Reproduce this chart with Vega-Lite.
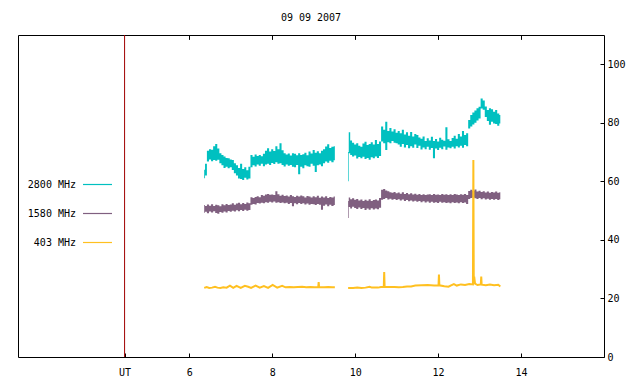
{
  "$schema": "https://vega.github.io/schema/vega-lite/v6.json",
  "width": 586,
  "height": 322,
  "autosize": {"type": "none"},
  "padding": {"left": 18, "top": 35, "right": 36, "bottom": 27},
  "background": "white",
  "title": {"text": "09 09 2007", "font": "DejaVu Sans Mono", "fontSize": 10, "fontWeight": "normal", "color": "black", "anchor": "middle", "offset": 12},
  "config": {
    "view": {"stroke": "black", "strokeWidth": 1},
    "axis": {"grid": false, "domain": false, "tickColor": "black", "labelColor": "black", "labelFont": "DejaVu Sans Mono", "labelFontSize": 10, "labelFlush": false, "title": null},
    "legend": {"labelFont": "DejaVu Sans Mono", "labelFontSize": 10, "labelColor": "black"}
  },
  "datasets": {
    "marker": [{"t": 4.44}],
    "s2800": [
      {"band":"2800 MHz","seg":1,"t":6.36,"lo":61.1,"hi":64.0},
      {"band":"2800 MHz","seg":1,"t":6.40,"lo":62.0,"hi":66.0},
      {"band":"2800 MHz","seg":1,"t":6.45,"lo":66.8,"hi":70.5},
      {"band":"2800 MHz","seg":1,"t":6.50,"lo":67.5,"hi":71.0},
      {"band":"2800 MHz","seg":1,"t":6.55,"lo":66.9,"hi":70.8},
      {"band":"2800 MHz","seg":1,"t":6.60,"lo":67.3,"hi":72.0},
      {"band":"2800 MHz","seg":1,"t":6.65,"lo":67.0,"hi":72.8},
      {"band":"2800 MHz","seg":1,"t":6.70,"lo":67.4,"hi":71.2},
      {"band":"2800 MHz","seg":1,"t":6.75,"lo":66.2,"hi":69.6},
      {"band":"2800 MHz","seg":1,"t":6.80,"lo":65.5,"hi":69.0},
      {"band":"2800 MHz","seg":1,"t":6.85,"lo":64.6,"hi":68.5},
      {"band":"2800 MHz","seg":1,"t":6.90,"lo":65.0,"hi":68.0},
      {"band":"2800 MHz","seg":1,"t":6.95,"lo":64.5,"hi":67.9},
      {"band":"2800 MHz","seg":1,"t":7.00,"lo":64.8,"hi":67.5},
      {"band":"2800 MHz","seg":1,"t":7.05,"lo":63.9,"hi":67.3},
      {"band":"2800 MHz","seg":1,"t":7.10,"lo":62.8,"hi":66.2},
      {"band":"2800 MHz","seg":1,"t":7.15,"lo":62.0,"hi":65.5},
      {"band":"2800 MHz","seg":1,"t":7.20,"lo":61.0,"hi":64.6},
      {"band":"2800 MHz","seg":1,"t":7.25,"lo":60.8,"hi":66.0},
      {"band":"2800 MHz","seg":1,"t":7.30,"lo":60.5,"hi":64.2},
      {"band":"2800 MHz","seg":1,"t":7.35,"lo":61.2,"hi":64.8},
      {"band":"2800 MHz","seg":1,"t":7.40,"lo":60.6,"hi":63.8},
      {"band":"2800 MHz","seg":1,"t":7.45,"lo":61.0,"hi":65.0},
      {"band":"2800 MHz","seg":1,"t":7.50,"lo":64.8,"hi":69.0},
      {"band":"2800 MHz","seg":1,"t":7.55,"lo":65.5,"hi":68.4},
      {"band":"2800 MHz","seg":1,"t":7.60,"lo":65.1,"hi":69.2},
      {"band":"2800 MHz","seg":1,"t":7.65,"lo":65.8,"hi":68.7},
      {"band":"2800 MHz","seg":1,"t":7.70,"lo":65.3,"hi":69.0},
      {"band":"2800 MHz","seg":1,"t":7.75,"lo":66.0,"hi":68.6},
      {"band":"2800 MHz","seg":1,"t":7.80,"lo":65.2,"hi":69.4},
      {"band":"2800 MHz","seg":1,"t":7.85,"lo":65.8,"hi":70.5},
      {"band":"2800 MHz","seg":1,"t":7.90,"lo":66.0,"hi":71.3},
      {"band":"2800 MHz","seg":1,"t":7.95,"lo":65.6,"hi":70.2},
      {"band":"2800 MHz","seg":1,"t":8.00,"lo":66.3,"hi":71.0},
      {"band":"2800 MHz","seg":1,"t":8.05,"lo":65.9,"hi":70.4},
      {"band":"2800 MHz","seg":1,"t":8.10,"lo":66.5,"hi":72.0},
      {"band":"2800 MHz","seg":1,"t":8.15,"lo":66.0,"hi":71.0},
      {"band":"2800 MHz","seg":1,"t":8.20,"lo":66.2,"hi":73.0},
      {"band":"2800 MHz","seg":1,"t":8.25,"lo":65.6,"hi":70.6},
      {"band":"2800 MHz","seg":1,"t":8.30,"lo":65.1,"hi":69.6},
      {"band":"2800 MHz","seg":1,"t":8.35,"lo":65.8,"hi":69.2},
      {"band":"2800 MHz","seg":1,"t":8.40,"lo":65.3,"hi":69.5},
      {"band":"2800 MHz","seg":1,"t":8.45,"lo":65.6,"hi":68.8},
      {"band":"2800 MHz","seg":1,"t":8.50,"lo":65.0,"hi":69.6},
      {"band":"2800 MHz","seg":1,"t":8.55,"lo":64.8,"hi":69.4},
      {"band":"2800 MHz","seg":1,"t":8.60,"lo":65.6,"hi":68.9},
      {"band":"2800 MHz","seg":1,"t":8.65,"lo":62.4,"hi":69.6},
      {"band":"2800 MHz","seg":1,"t":8.70,"lo":65.0,"hi":69.0},
      {"band":"2800 MHz","seg":1,"t":8.75,"lo":64.5,"hi":69.3},
      {"band":"2800 MHz","seg":1,"t":8.80,"lo":65.5,"hi":69.8},
      {"band":"2800 MHz","seg":1,"t":8.85,"lo":65.2,"hi":68.9},
      {"band":"2800 MHz","seg":1,"t":8.90,"lo":65.0,"hi":70.2},
      {"band":"2800 MHz","seg":1,"t":8.95,"lo":66.0,"hi":69.5},
      {"band":"2800 MHz","seg":1,"t":9.00,"lo":65.3,"hi":70.7},
      {"band":"2800 MHz","seg":1,"t":9.05,"lo":63.2,"hi":69.8},
      {"band":"2800 MHz","seg":1,"t":9.10,"lo":65.5,"hi":70.3},
      {"band":"2800 MHz","seg":1,"t":9.15,"lo":65.8,"hi":69.6},
      {"band":"2800 MHz","seg":1,"t":9.20,"lo":65.2,"hi":70.5},
      {"band":"2800 MHz","seg":1,"t":9.25,"lo":66.2,"hi":71.0},
      {"band":"2800 MHz","seg":1,"t":9.30,"lo":66.8,"hi":71.9},
      {"band":"2800 MHz","seg":1,"t":9.35,"lo":66.4,"hi":72.7},
      {"band":"2800 MHz","seg":1,"t":9.40,"lo":67.0,"hi":71.4},
      {"band":"2800 MHz","seg":1,"t":9.45,"lo":66.5,"hi":71.8},
      {"band":"2800 MHz","seg":1,"t":9.51,"lo":67.2,"hi":72.0},
      {"band":"2800 MHz","seg":2,"t":9.83,"lo":60.0,"hi":70.0},
      {"band":"2800 MHz","seg":2,"t":9.86,"lo":69.6,"hi":76.8},
      {"band":"2800 MHz","seg":2,"t":9.90,"lo":69.0,"hi":74.0},
      {"band":"2800 MHz","seg":2,"t":9.95,"lo":68.5,"hi":73.2},
      {"band":"2800 MHz","seg":2,"t":10.00,"lo":68.8,"hi":72.6},
      {"band":"2800 MHz","seg":2,"t":10.05,"lo":67.8,"hi":73.0},
      {"band":"2800 MHz","seg":2,"t":10.10,"lo":68.3,"hi":72.2},
      {"band":"2800 MHz","seg":2,"t":10.15,"lo":67.9,"hi":71.8},
      {"band":"2800 MHz","seg":2,"t":10.20,"lo":68.4,"hi":72.9},
      {"band":"2800 MHz","seg":2,"t":10.25,"lo":67.6,"hi":73.5},
      {"band":"2800 MHz","seg":2,"t":10.30,"lo":68.0,"hi":72.4},
      {"band":"2800 MHz","seg":2,"t":10.35,"lo":67.4,"hi":72.8},
      {"band":"2800 MHz","seg":2,"t":10.40,"lo":68.2,"hi":73.4},
      {"band":"2800 MHz","seg":2,"t":10.45,"lo":67.9,"hi":72.6},
      {"band":"2800 MHz","seg":2,"t":10.50,"lo":68.5,"hi":74.1},
      {"band":"2800 MHz","seg":2,"t":10.55,"lo":68.0,"hi":72.8},
      {"band":"2800 MHz","seg":2,"t":10.60,"lo":68.7,"hi":73.6},
      {"band":"2800 MHz","seg":2,"t":10.65,"lo":73.6,"hi":78.7},
      {"band":"2800 MHz","seg":2,"t":10.70,"lo":73.0,"hi":77.6},
      {"band":"2800 MHz","seg":2,"t":10.75,"lo":70.7,"hi":80.4},
      {"band":"2800 MHz","seg":2,"t":10.80,"lo":73.4,"hi":77.2},
      {"band":"2800 MHz","seg":2,"t":10.85,"lo":73.0,"hi":78.2},
      {"band":"2800 MHz","seg":2,"t":10.90,"lo":73.8,"hi":77.0},
      {"band":"2800 MHz","seg":2,"t":10.95,"lo":73.2,"hi":77.8},
      {"band":"2800 MHz","seg":2,"t":11.00,"lo":73.0,"hi":76.6},
      {"band":"2800 MHz","seg":2,"t":11.05,"lo":72.6,"hi":77.2},
      {"band":"2800 MHz","seg":2,"t":11.10,"lo":71.8,"hi":76.4},
      {"band":"2800 MHz","seg":2,"t":11.15,"lo":72.8,"hi":77.6},
      {"band":"2800 MHz","seg":2,"t":11.20,"lo":71.6,"hi":76.0},
      {"band":"2800 MHz","seg":2,"t":11.25,"lo":72.4,"hi":76.8},
      {"band":"2800 MHz","seg":2,"t":11.30,"lo":71.3,"hi":75.6},
      {"band":"2800 MHz","seg":2,"t":11.35,"lo":72.0,"hi":76.9},
      {"band":"2800 MHz","seg":2,"t":11.40,"lo":71.5,"hi":75.3},
      {"band":"2800 MHz","seg":2,"t":11.45,"lo":72.6,"hi":76.2},
      {"band":"2800 MHz","seg":2,"t":11.50,"lo":71.4,"hi":75.8},
      {"band":"2800 MHz","seg":2,"t":11.55,"lo":72.2,"hi":75.0},
      {"band":"2800 MHz","seg":2,"t":11.60,"lo":70.9,"hi":74.6},
      {"band":"2800 MHz","seg":2,"t":11.65,"lo":71.6,"hi":75.3},
      {"band":"2800 MHz","seg":2,"t":11.70,"lo":71.0,"hi":73.8},
      {"band":"2800 MHz","seg":2,"t":11.75,"lo":71.8,"hi":74.7},
      {"band":"2800 MHz","seg":2,"t":11.80,"lo":70.8,"hi":74.0},
      {"band":"2800 MHz","seg":2,"t":11.85,"lo":71.4,"hi":75.2},
      {"band":"2800 MHz","seg":2,"t":11.90,"lo":67.9,"hi":73.8},
      {"band":"2800 MHz","seg":2,"t":11.95,"lo":71.2,"hi":74.5},
      {"band":"2800 MHz","seg":2,"t":12.00,"lo":70.7,"hi":73.6},
      {"band":"2800 MHz","seg":2,"t":12.05,"lo":71.5,"hi":74.9},
      {"band":"2800 MHz","seg":2,"t":12.10,"lo":71.0,"hi":74.2},
      {"band":"2800 MHz","seg":2,"t":12.15,"lo":71.9,"hi":73.9},
      {"band":"2800 MHz","seg":2,"t":12.20,"lo":70.8,"hi":78.5},
      {"band":"2800 MHz","seg":2,"t":12.25,"lo":71.6,"hi":74.4},
      {"band":"2800 MHz","seg":2,"t":12.30,"lo":71.3,"hi":73.8},
      {"band":"2800 MHz","seg":2,"t":12.35,"lo":71.8,"hi":74.8},
      {"band":"2800 MHz","seg":2,"t":12.40,"lo":71.2,"hi":75.6},
      {"band":"2800 MHz","seg":2,"t":12.45,"lo":72.0,"hi":74.6},
      {"band":"2800 MHz","seg":2,"t":12.50,"lo":71.6,"hi":76.2},
      {"band":"2800 MHz","seg":2,"t":12.55,"lo":72.2,"hi":75.3},
      {"band":"2800 MHz","seg":2,"t":12.60,"lo":71.5,"hi":77.2},
      {"band":"2800 MHz","seg":2,"t":12.65,"lo":72.4,"hi":75.8},
      {"band":"2800 MHz","seg":2,"t":12.70,"lo":72.0,"hi":76.4},
      {"band":"2800 MHz","seg":2,"t":12.75,"lo":78.1,"hi":81.0},
      {"band":"2800 MHz","seg":2,"t":12.80,"lo":78.7,"hi":82.7},
      {"band":"2800 MHz","seg":2,"t":12.85,"lo":79.4,"hi":83.5},
      {"band":"2800 MHz","seg":2,"t":12.90,"lo":80.0,"hi":84.2},
      {"band":"2800 MHz","seg":2,"t":12.95,"lo":80.8,"hi":85.0},
      {"band":"2800 MHz","seg":2,"t":13.00,"lo":81.5,"hi":85.5},
      {"band":"2800 MHz","seg":2,"t":13.05,"lo":84.9,"hi":88.3},
      {"band":"2800 MHz","seg":2,"t":13.10,"lo":84.5,"hi":87.6},
      {"band":"2800 MHz","seg":2,"t":13.15,"lo":82.0,"hi":85.6},
      {"band":"2800 MHz","seg":2,"t":13.20,"lo":80.6,"hi":84.4},
      {"band":"2800 MHz","seg":2,"t":13.25,"lo":79.3,"hi":85.0},
      {"band":"2800 MHz","seg":2,"t":13.30,"lo":80.4,"hi":84.6},
      {"band":"2800 MHz","seg":2,"t":13.35,"lo":79.8,"hi":83.8},
      {"band":"2800 MHz","seg":2,"t":13.40,"lo":79.6,"hi":84.4},
      {"band":"2800 MHz","seg":2,"t":13.45,"lo":79.0,"hi":83.2},
      {"band":"2800 MHz","seg":2,"t":13.50,"lo":79.8,"hi":82.7}
    ],
    "s1580": [
      {"band":"1580 MHz","seg":1,"t":6.36,"lo":49.3,"hi":51.9},
      {"band":"1580 MHz","seg":1,"t":6.40,"lo":49.6,"hi":51.6},
      {"band":"1580 MHz","seg":1,"t":6.45,"lo":49.1,"hi":52.1},
      {"band":"1580 MHz","seg":1,"t":6.50,"lo":49.7,"hi":51.7},
      {"band":"1580 MHz","seg":1,"t":6.55,"lo":49.4,"hi":52.2},
      {"band":"1580 MHz","seg":1,"t":6.60,"lo":49.8,"hi":51.6},
      {"band":"1580 MHz","seg":1,"t":6.65,"lo":49.2,"hi":52.0},
      {"band":"1580 MHz","seg":1,"t":6.70,"lo":48.9,"hi":51.8},
      {"band":"1580 MHz","seg":1,"t":6.75,"lo":49.5,"hi":51.5},
      {"band":"1580 MHz","seg":1,"t":6.80,"lo":49.3,"hi":52.2},
      {"band":"1580 MHz","seg":1,"t":6.85,"lo":49.7,"hi":51.8},
      {"band":"1580 MHz","seg":1,"t":6.90,"lo":49.4,"hi":52.3},
      {"band":"1580 MHz","seg":1,"t":6.95,"lo":49.9,"hi":51.9},
      {"band":"1580 MHz","seg":1,"t":7.00,"lo":49.6,"hi":52.1},
      {"band":"1580 MHz","seg":1,"t":7.05,"lo":50.0,"hi":52.5},
      {"band":"1580 MHz","seg":1,"t":7.10,"lo":49.7,"hi":52.0},
      {"band":"1580 MHz","seg":1,"t":7.15,"lo":50.1,"hi":52.4},
      {"band":"1580 MHz","seg":1,"t":7.20,"lo":49.8,"hi":52.7},
      {"band":"1580 MHz","seg":1,"t":7.25,"lo":50.2,"hi":52.2},
      {"band":"1580 MHz","seg":1,"t":7.30,"lo":49.9,"hi":52.6},
      {"band":"1580 MHz","seg":1,"t":7.35,"lo":50.3,"hi":52.3},
      {"band":"1580 MHz","seg":1,"t":7.40,"lo":50.0,"hi":52.8},
      {"band":"1580 MHz","seg":1,"t":7.45,"lo":50.2,"hi":52.5},
      {"band":"1580 MHz","seg":1,"t":7.50,"lo":52.0,"hi":54.6},
      {"band":"1580 MHz","seg":1,"t":7.55,"lo":52.3,"hi":54.3},
      {"band":"1580 MHz","seg":1,"t":7.60,"lo":52.1,"hi":54.7},
      {"band":"1580 MHz","seg":1,"t":7.65,"lo":52.6,"hi":54.9},
      {"band":"1580 MHz","seg":1,"t":7.70,"lo":52.4,"hi":54.6},
      {"band":"1580 MHz","seg":1,"t":7.75,"lo":52.7,"hi":55.3},
      {"band":"1580 MHz","seg":1,"t":7.80,"lo":52.5,"hi":55.1},
      {"band":"1580 MHz","seg":1,"t":7.85,"lo":52.9,"hi":55.5},
      {"band":"1580 MHz","seg":1,"t":7.90,"lo":52.7,"hi":55.7},
      {"band":"1580 MHz","seg":1,"t":7.95,"lo":53.0,"hi":55.4},
      {"band":"1580 MHz","seg":1,"t":8.00,"lo":52.8,"hi":55.5},
      {"band":"1580 MHz","seg":1,"t":8.05,"lo":53.1,"hi":55.3},
      {"band":"1580 MHz","seg":1,"t":8.10,"lo":52.7,"hi":56.6},
      {"band":"1580 MHz","seg":1,"t":8.15,"lo":52.9,"hi":55.6},
      {"band":"1580 MHz","seg":1,"t":8.20,"lo":52.6,"hi":55.1},
      {"band":"1580 MHz","seg":1,"t":8.25,"lo":52.8,"hi":55.4},
      {"band":"1580 MHz","seg":1,"t":8.30,"lo":52.5,"hi":55.0},
      {"band":"1580 MHz","seg":1,"t":8.35,"lo":52.7,"hi":55.2},
      {"band":"1580 MHz","seg":1,"t":8.40,"lo":52.3,"hi":54.8},
      {"band":"1580 MHz","seg":1,"t":8.45,"lo":52.6,"hi":55.3},
      {"band":"1580 MHz","seg":1,"t":8.50,"lo":51.5,"hi":54.9},
      {"band":"1580 MHz","seg":1,"t":8.55,"lo":52.5,"hi":54.7},
      {"band":"1580 MHz","seg":1,"t":8.60,"lo":52.2,"hi":55.1},
      {"band":"1580 MHz","seg":1,"t":8.65,"lo":52.6,"hi":54.8},
      {"band":"1580 MHz","seg":1,"t":8.70,"lo":52.3,"hi":55.2},
      {"band":"1580 MHz","seg":1,"t":8.75,"lo":52.5,"hi":54.9},
      {"band":"1580 MHz","seg":1,"t":8.80,"lo":52.1,"hi":54.5},
      {"band":"1580 MHz","seg":1,"t":8.85,"lo":52.4,"hi":55.0},
      {"band":"1580 MHz","seg":1,"t":8.90,"lo":52.0,"hi":54.8},
      {"band":"1580 MHz","seg":1,"t":8.95,"lo":52.3,"hi":54.5},
      {"band":"1580 MHz","seg":1,"t":9.00,"lo":52.2,"hi":54.9},
      {"band":"1580 MHz","seg":1,"t":9.05,"lo":51.9,"hi":54.6},
      {"band":"1580 MHz","seg":1,"t":9.10,"lo":52.3,"hi":55.1},
      {"band":"1580 MHz","seg":1,"t":9.15,"lo":52.0,"hi":54.4},
      {"band":"1580 MHz","seg":1,"t":9.20,"lo":50.3,"hi":54.8},
      {"band":"1580 MHz","seg":1,"t":9.25,"lo":51.7,"hi":54.5},
      {"band":"1580 MHz","seg":1,"t":9.30,"lo":52.1,"hi":54.9},
      {"band":"1580 MHz","seg":1,"t":9.35,"lo":51.5,"hi":54.3},
      {"band":"1580 MHz","seg":1,"t":9.40,"lo":52.0,"hi":54.7},
      {"band":"1580 MHz","seg":1,"t":9.45,"lo":51.6,"hi":54.5},
      {"band":"1580 MHz","seg":1,"t":9.51,"lo":51.9,"hi":54.8},
      {"band":"1580 MHz","seg":2,"t":9.83,"lo":47.5,"hi":53.3},
      {"band":"1580 MHz","seg":2,"t":9.86,"lo":51.2,"hi":54.5},
      {"band":"1580 MHz","seg":2,"t":9.90,"lo":50.7,"hi":53.9},
      {"band":"1580 MHz","seg":2,"t":9.95,"lo":51.3,"hi":54.2},
      {"band":"1580 MHz","seg":2,"t":10.00,"lo":50.9,"hi":53.7},
      {"band":"1580 MHz","seg":2,"t":10.05,"lo":50.6,"hi":54.0},
      {"band":"1580 MHz","seg":2,"t":10.10,"lo":51.1,"hi":53.5},
      {"band":"1580 MHz","seg":2,"t":10.15,"lo":50.6,"hi":53.8},
      {"band":"1580 MHz","seg":2,"t":10.20,"lo":50.9,"hi":53.3},
      {"band":"1580 MHz","seg":2,"t":10.25,"lo":50.2,"hi":53.7},
      {"band":"1580 MHz","seg":2,"t":10.30,"lo":50.7,"hi":53.4},
      {"band":"1580 MHz","seg":2,"t":10.35,"lo":50.3,"hi":53.9},
      {"band":"1580 MHz","seg":2,"t":10.40,"lo":50.8,"hi":53.3},
      {"band":"1580 MHz","seg":2,"t":10.45,"lo":50.4,"hi":53.6},
      {"band":"1580 MHz","seg":2,"t":10.50,"lo":50.7,"hi":53.8},
      {"band":"1580 MHz","seg":2,"t":10.55,"lo":50.5,"hi":53.5},
      {"band":"1580 MHz","seg":2,"t":10.60,"lo":51.0,"hi":54.3},
      {"band":"1580 MHz","seg":2,"t":10.65,"lo":53.7,"hi":57.1},
      {"band":"1580 MHz","seg":2,"t":10.70,"lo":54.0,"hi":57.4},
      {"band":"1580 MHz","seg":2,"t":10.75,"lo":54.3,"hi":56.9},
      {"band":"1580 MHz","seg":2,"t":10.80,"lo":53.8,"hi":56.6},
      {"band":"1580 MHz","seg":2,"t":10.85,"lo":54.1,"hi":56.3},
      {"band":"1580 MHz","seg":2,"t":10.90,"lo":53.7,"hi":56.1},
      {"band":"1580 MHz","seg":2,"t":10.95,"lo":54.0,"hi":56.4},
      {"band":"1580 MHz","seg":2,"t":11.00,"lo":53.6,"hi":55.9},
      {"band":"1580 MHz","seg":2,"t":11.05,"lo":53.9,"hi":56.2},
      {"band":"1580 MHz","seg":2,"t":11.10,"lo":53.5,"hi":55.8},
      {"band":"1580 MHz","seg":2,"t":11.15,"lo":53.8,"hi":56.3},
      {"band":"1580 MHz","seg":2,"t":11.20,"lo":53.3,"hi":55.7},
      {"band":"1580 MHz","seg":2,"t":11.25,"lo":53.6,"hi":56.0},
      {"band":"1580 MHz","seg":2,"t":11.30,"lo":53.2,"hi":55.6},
      {"band":"1580 MHz","seg":2,"t":11.35,"lo":53.5,"hi":55.9},
      {"band":"1580 MHz","seg":2,"t":11.40,"lo":53.1,"hi":55.5},
      {"band":"1580 MHz","seg":2,"t":11.45,"lo":53.4,"hi":55.8},
      {"band":"1580 MHz","seg":2,"t":11.50,"lo":53.0,"hi":55.4},
      {"band":"1580 MHz","seg":2,"t":11.55,"lo":53.3,"hi":55.7},
      {"band":"1580 MHz","seg":2,"t":11.60,"lo":52.9,"hi":55.3},
      {"band":"1580 MHz","seg":2,"t":11.65,"lo":53.2,"hi":55.6},
      {"band":"1580 MHz","seg":2,"t":11.70,"lo":52.8,"hi":55.3},
      {"band":"1580 MHz","seg":2,"t":11.75,"lo":53.1,"hi":55.5},
      {"band":"1580 MHz","seg":2,"t":11.80,"lo":52.7,"hi":55.6},
      {"band":"1580 MHz","seg":2,"t":11.85,"lo":53.0,"hi":55.3},
      {"band":"1580 MHz","seg":2,"t":11.90,"lo":52.7,"hi":55.7},
      {"band":"1580 MHz","seg":2,"t":11.95,"lo":52.9,"hi":55.4},
      {"band":"1580 MHz","seg":2,"t":12.00,"lo":52.6,"hi":55.5},
      {"band":"1580 MHz","seg":2,"t":12.05,"lo":53.0,"hi":55.3},
      {"band":"1580 MHz","seg":2,"t":12.10,"lo":52.7,"hi":55.7},
      {"band":"1580 MHz","seg":2,"t":12.15,"lo":52.9,"hi":55.4},
      {"band":"1580 MHz","seg":2,"t":12.20,"lo":52.6,"hi":55.6},
      {"band":"1580 MHz","seg":2,"t":12.25,"lo":52.8,"hi":55.3},
      {"band":"1580 MHz","seg":2,"t":12.30,"lo":52.5,"hi":55.6},
      {"band":"1580 MHz","seg":2,"t":12.35,"lo":52.9,"hi":55.3},
      {"band":"1580 MHz","seg":2,"t":12.40,"lo":52.6,"hi":55.7},
      {"band":"1580 MHz","seg":2,"t":12.45,"lo":52.8,"hi":55.5},
      {"band":"1580 MHz","seg":2,"t":12.50,"lo":52.5,"hi":55.3},
      {"band":"1580 MHz","seg":2,"t":12.55,"lo":52.9,"hi":55.6},
      {"band":"1580 MHz","seg":2,"t":12.60,"lo":52.6,"hi":55.4},
      {"band":"1580 MHz","seg":2,"t":12.65,"lo":52.8,"hi":55.7},
      {"band":"1580 MHz","seg":2,"t":12.70,"lo":52.3,"hi":55.3},
      {"band":"1580 MHz","seg":2,"t":12.75,"lo":54.0,"hi":56.7},
      {"band":"1580 MHz","seg":2,"t":12.80,"lo":54.3,"hi":57.1},
      {"band":"1580 MHz","seg":2,"t":12.85,"lo":54.5,"hi":56.8},
      {"band":"1580 MHz","seg":2,"t":12.90,"lo":54.2,"hi":57.2},
      {"band":"1580 MHz","seg":2,"t":12.95,"lo":54.0,"hi":56.5},
      {"band":"1580 MHz","seg":2,"t":13.00,"lo":54.3,"hi":56.8},
      {"band":"1580 MHz","seg":2,"t":13.05,"lo":53.9,"hi":56.4},
      {"band":"1580 MHz","seg":2,"t":13.10,"lo":54.2,"hi":56.6},
      {"band":"1580 MHz","seg":2,"t":13.15,"lo":53.8,"hi":56.2},
      {"band":"1580 MHz","seg":2,"t":13.20,"lo":54.1,"hi":56.5},
      {"band":"1580 MHz","seg":2,"t":13.25,"lo":53.7,"hi":56.1},
      {"band":"1580 MHz","seg":2,"t":13.30,"lo":54.0,"hi":56.4},
      {"band":"1580 MHz","seg":2,"t":13.35,"lo":53.7,"hi":56.2},
      {"band":"1580 MHz","seg":2,"t":13.40,"lo":54.0,"hi":56.5},
      {"band":"1580 MHz","seg":2,"t":13.45,"lo":53.6,"hi":56.1},
      {"band":"1580 MHz","seg":2,"t":13.50,"lo":53.9,"hi":56.3}
    ],
    "s403": [
      {"band":"403 MHz","seg":1,"t":6.36,"v":23.6},
      {"band":"403 MHz","seg":1,"t":6.42,"v":23.9},
      {"band":"403 MHz","seg":1,"t":6.48,"v":23.6},
      {"band":"403 MHz","seg":1,"t":6.55,"v":23.7},
      {"band":"403 MHz","seg":1,"t":6.62,"v":24.0},
      {"band":"403 MHz","seg":1,"t":6.68,"v":23.7},
      {"band":"403 MHz","seg":1,"t":6.75,"v":23.6},
      {"band":"403 MHz","seg":1,"t":6.82,"v":23.8},
      {"band":"403 MHz","seg":1,"t":6.90,"v":23.7},
      {"band":"403 MHz","seg":1,"t":6.98,"v":24.4},
      {"band":"403 MHz","seg":1,"t":7.06,"v":23.6},
      {"band":"403 MHz","seg":1,"t":7.14,"v":24.3},
      {"band":"403 MHz","seg":1,"t":7.24,"v":23.6},
      {"band":"403 MHz","seg":1,"t":7.34,"v":24.3},
      {"band":"403 MHz","seg":1,"t":7.42,"v":24.0},
      {"band":"403 MHz","seg":1,"t":7.49,"v":23.6},
      {"band":"403 MHz","seg":1,"t":7.60,"v":24.4},
      {"band":"403 MHz","seg":1,"t":7.70,"v":23.7},
      {"band":"403 MHz","seg":1,"t":7.80,"v":24.2},
      {"band":"403 MHz","seg":1,"t":7.90,"v":23.6},
      {"band":"403 MHz","seg":1,"t":8.01,"v":24.6},
      {"band":"403 MHz","seg":1,"t":8.12,"v":23.7},
      {"band":"403 MHz","seg":1,"t":8.24,"v":24.3},
      {"band":"403 MHz","seg":1,"t":8.32,"v":23.8},
      {"band":"403 MHz","seg":1,"t":8.42,"v":23.9},
      {"band":"403 MHz","seg":1,"t":8.52,"v":23.8},
      {"band":"403 MHz","seg":1,"t":8.62,"v":23.9},
      {"band":"403 MHz","seg":1,"t":8.72,"v":24.0},
      {"band":"403 MHz","seg":1,"t":8.82,"v":23.8},
      {"band":"403 MHz","seg":1,"t":8.92,"v":23.9},
      {"band":"403 MHz","seg":1,"t":9.02,"v":23.8},
      {"band":"403 MHz","seg":1,"t":9.11,"v":23.9},
      {"band":"403 MHz","seg":1,"t":9.12,"v":25.6},
      {"band":"403 MHz","seg":1,"t":9.13,"v":23.9},
      {"band":"403 MHz","seg":1,"t":9.25,"v":23.8},
      {"band":"403 MHz","seg":1,"t":9.35,"v":23.9},
      {"band":"403 MHz","seg":1,"t":9.45,"v":23.8},
      {"band":"403 MHz","seg":1,"t":9.51,"v":23.8},
      {"band":"403 MHz","seg":2,"t":9.83,"v":23.6},
      {"band":"403 MHz","seg":2,"t":9.95,"v":23.6},
      {"band":"403 MHz","seg":2,"t":10.05,"v":23.7},
      {"band":"403 MHz","seg":2,"t":10.15,"v":23.6},
      {"band":"403 MHz","seg":2,"t":10.25,"v":23.7},
      {"band":"403 MHz","seg":2,"t":10.35,"v":24.0},
      {"band":"403 MHz","seg":2,"t":10.40,"v":23.7},
      {"band":"403 MHz","seg":2,"t":10.55,"v":23.7},
      {"band":"403 MHz","seg":2,"t":10.62,"v":23.9},
      {"band":"403 MHz","seg":2,"t":10.69,"v":23.9},
      {"band":"403 MHz","seg":2,"t":10.70,"v":29.0},
      {"band":"403 MHz","seg":2,"t":10.71,"v":23.9},
      {"band":"403 MHz","seg":2,"t":10.80,"v":23.9},
      {"band":"403 MHz","seg":2,"t":10.95,"v":23.9},
      {"band":"403 MHz","seg":2,"t":11.05,"v":23.8},
      {"band":"403 MHz","seg":2,"t":11.15,"v":23.9},
      {"band":"403 MHz","seg":2,"t":11.25,"v":24.1},
      {"band":"403 MHz","seg":2,"t":11.35,"v":24.1},
      {"band":"403 MHz","seg":2,"t":11.45,"v":24.4},
      {"band":"403 MHz","seg":2,"t":11.60,"v":24.5},
      {"band":"403 MHz","seg":2,"t":11.75,"v":24.6},
      {"band":"403 MHz","seg":2,"t":11.90,"v":24.4},
      {"band":"403 MHz","seg":2,"t":12.01,"v":24.5},
      {"band":"403 MHz","seg":2,"t":12.02,"v":28.2},
      {"band":"403 MHz","seg":2,"t":12.03,"v":24.5},
      {"band":"403 MHz","seg":2,"t":12.15,"v":24.2},
      {"band":"403 MHz","seg":2,"t":12.25,"v":24.0},
      {"band":"403 MHz","seg":2,"t":12.30,"v":24.4},
      {"band":"403 MHz","seg":2,"t":12.38,"v":24.9},
      {"band":"403 MHz","seg":2,"t":12.45,"v":24.4},
      {"band":"403 MHz","seg":2,"t":12.55,"v":24.8},
      {"band":"403 MHz","seg":2,"t":12.65,"v":24.6},
      {"band":"403 MHz","seg":2,"t":12.75,"v":24.9},
      {"band":"403 MHz","seg":2,"t":12.84,"v":24.8},
      {"band":"403 MHz","seg":2,"t":12.85,"v":67.3},
      {"band":"403 MHz","seg":2,"t":12.86,"v":25.0},
      {"band":"403 MHz","seg":2,"t":12.87,"v":27.5},
      {"band":"403 MHz","seg":2,"t":12.89,"v":25.1},
      {"band":"403 MHz","seg":2,"t":12.95,"v":24.6},
      {"band":"403 MHz","seg":2,"t":13.03,"v":24.8},
      {"band":"403 MHz","seg":2,"t":13.04,"v":27.5},
      {"band":"403 MHz","seg":2,"t":13.05,"v":24.7},
      {"band":"403 MHz","seg":2,"t":13.15,"v":24.5},
      {"band":"403 MHz","seg":2,"t":13.25,"v":24.8},
      {"band":"403 MHz","seg":2,"t":13.35,"v":24.5},
      {"band":"403 MHz","seg":2,"t":13.45,"v":24.7},
      {"band":"403 MHz","seg":2,"t":13.50,"v":24.1}
    ]
  },
  "layer": [
    {
      "data": {"name": "s2800"},
      "mark": {"type": "area", "interpolate": "step", "color": "#00c0c0"},
      "encoding": {
        "x": {"field": "t", "type": "quantitative", "scale": {"domain": [1.87, 16], "nice": false, "zero": false},
              "axis": {"orient": "top", "values": [6, 8, 10, 12, 14], "labels": false, "tickSize": -4}},
        "y": {"field": "lo", "type": "quantitative", "scale": {"domain": [0, 110], "nice": false, "zero": false},
              "axis": {"orient": "right", "values": [0, 20, 40, 60, 80, 100], "tickSize": -4, "labelPadding": 7}},
        "y2": {"field": "hi"},
        "detail": {"field": "seg"}
      }
    },
    {
      "data": {"name": "s1580"},
      "mark": {"type": "area", "interpolate": "step", "color": "#806080"},
      "encoding": {
        "x": {"field": "t", "type": "quantitative",
              "axis": {"orient": "top", "values": [6, 8, 10, 12, 14], "labels": false, "tickSize": -4}},
        "y": {"field": "lo", "type": "quantitative",
              "axis": {"orient": "right", "values": [0, 20, 40, 60, 80, 100], "tickSize": -4, "labelPadding": 7}},
        "y2": {"field": "hi"},
        "detail": {"field": "seg"}
      }
    },
    {
      "data": {"name": "s403"},
      "mark": {"type": "line", "strokeWidth": 2},
      "encoding": {
        "x": {"field": "t", "type": "quantitative",
              "axis": {"orient": "top", "values": [6, 8, 10, 12, 14], "labels": false, "tickSize": -4}},
        "y": {"field": "v", "type": "quantitative",
              "axis": {"orient": "right", "values": [0, 20, 40, 60, 80, 100], "tickSize": -4, "labelPadding": 7}},
        "detail": {"field": "seg"},
        "color": {"field": "band", "type": "nominal",
                  "scale": {"domain": ["2800 MHz", "1580 MHz", "403 MHz"], "range": ["#00c0c0", "#806080", "#ffc020"]},
                  "legend": {"title": null, "orient": "none", "legendX": 64, "legendY": 134, "symbolType": "stroke", "symbolSize": 841, "symbolStrokeWidth": 1.2, "labelAlign": "right", "labelOffset": -37, "rowPadding": 8, "padding": 0}}
      }
    },
    {
      "data": {"name": "marker"},
      "mark": {"type": "rule", "color": "#a00000", "strokeWidth": 1},
      "encoding": {
        "x": {"field": "t", "type": "quantitative",
              "axis": {"orient": "bottom", "values": [4.44, 6, 8, 10, 12, 14], "labelExpr": "datum.value < 5 ? 'UT' : format(datum.value, 'd')", "tickSize": -4, "labelPadding": 14}}
      }
    }
  ]
}
